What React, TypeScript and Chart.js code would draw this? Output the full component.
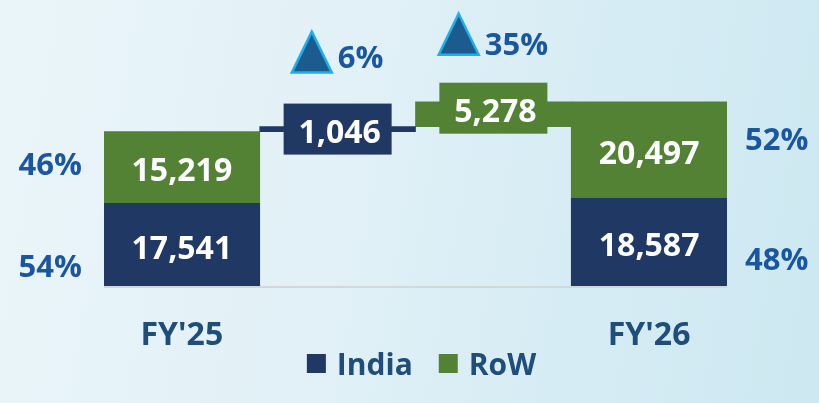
import React, { useEffect, useRef } from "react";
import { Chart, registerables } from "chart.js";

Chart.register(...registerables);

// ---- data ----
const categories = ["FY'25", "", "", "FY'26"];
const seriesNames = ["India", "RoW"];
const indiaValues: (number | null)[] = [17541, 1046, null, 18587];
const rowValues: (number | null)[] = [15219, null, 5278, 20497];
const indiaShare: (string | null)[] = ["54%", null, null, "48%"];
const rowShare: (string | null)[] = ["46%", null, null, "52%"];
const growthLabels: (string | null)[] = [null, "6%", "35%", null];
const isTotal = [true, false, false, true];

const NAVY = "#203864";
const GREEN = "#548235";
const FONT = "'Open Sans', 'Noto Sans', sans-serif";

// build floating ranges (waterfall)
function buildRanges() {
  const india: ([number, number] | null)[] = [];
  const row: ([number, number] | null)[] = [];
  let running = 0;
  for (let i = 0; i < categories.length; i++) {
    const iv = indiaValues[i];
    const rv = rowValues[i];
    if (isTotal[i]) {
      india.push(iv != null ? [0, iv] : null);
      row.push(rv != null ? [iv ?? 0, (iv ?? 0) + (rv ?? 0)] : null);
      running = (iv ?? 0) + (rv ?? 0);
    } else {
      if (iv != null) {
        india.push([running, running + iv]);
        running += iv;
      } else india.push(null);
      if (rv != null) {
        row.push([running, running + rv]);
        running += rv;
      } else row.push(null);
    }
  }
  return { india, row };
}

const fmt = (v: number) => v.toLocaleString("en-US");

const labelPlugin = {
  id: "waterfallLabels",
  beforeDatasetsDraw(chart: any) {
    const { ctx, chartArea } = chart;
    ctx.save();
    ctx.strokeStyle = "#d2d7db";
    ctx.lineWidth = 2;
    ctx.beginPath();
    ctx.moveTo(chartArea.left, chartArea.bottom + 1);
    ctx.lineTo(chartArea.right, chartArea.bottom + 1);
    ctx.stroke();
    ctx.restore();
  },
  afterDatasetsDraw(chart: any, _args: any, opts: any) {
    const { ctx, chartArea } = chart;
    ctx.save();
    const values = [indiaValues, rowValues];
    const shares = [indiaShare, rowShare];
    const colors = [NAVY, GREEN];

    for (let d = 0; d < 2; d++) {
      const meta = chart.getDatasetMeta(d);
      for (let i = 0; i < categories.length; i++) {
        const v = values[d][i];
        const el = meta.data[i];
        if (v == null || !el) continue;
        const cx = el.x;
        const cy = (el.y + el.base) / 2;
        if (isTotal[i]) {
          ctx.font = `bold 32px ${FONT}`;
          ctx.fillStyle = "#ffffff";
          ctx.textAlign = "center";
          ctx.textBaseline = "alphabetic";
          ctx.fillText(fmt(v), cx, cy + 14);
          const s = shares[d][i];
          if (s) {
            ctx.font = `bold 31px ${FONT}`;
            ctx.fillStyle = "#1a57a0";
            const off = opts.shareOffsets[`${d}-${i}`] ?? 0;
            if (i === 0) {
              ctx.textAlign = "right";
              ctx.fillText(s, el.x - el.width / 2 - 22, cy + off);
            } else {
              ctx.textAlign = "left";
              ctx.fillText(s, el.x + el.width / 2 + 18, cy + off);
            }
          }
        } else {
          const bw = 108, bh = 51;
          const boxCy = cy + (opts.boxOffsets[i] ?? 0);
          const top = boxCy - bh / 2;
          ctx.fillStyle = colors[d];
          ctx.fillRect(cx - bw / 2, top, bw, bh);
          ctx.font = `bold 32px ${FONT}`;
          ctx.fillStyle = "#ffffff";
          ctx.textAlign = "center";
          ctx.textBaseline = "alphabetic";
          ctx.fillText(fmt(v), cx + 2, boxCy + 14);

          const g = growthLabels[i];
          if (g) {
            const go = opts.growthOffsets[i];
            ctx.font = `bold 31px ${FONT}`;
            const tw = ctx.measureText(g).width;
            const triW = 40, triH = 41, gap = 6;
            const total = triW + gap + tw;
            const x0 = cx - total / 2;
            const baseY = top + go.tri;
            ctx.beginPath();
            ctx.moveTo(x0 + triW / 2, baseY - triH);
            ctx.lineTo(x0 + triW, baseY);
            ctx.lineTo(x0, baseY);
            ctx.closePath();
            ctx.fillStyle = "#1d5a8e";
            ctx.fill();
            ctx.lineWidth = 2.5;
            ctx.strokeStyle = "#1fb0ec";
            ctx.lineJoin = "miter";
            ctx.stroke();
            ctx.fillStyle = "#1a57a0";
            ctx.textAlign = "left";
            ctx.fillText(g, x0 + triW + gap, top + go.text);
          }
        }
      }
    }

    // category labels
    const meta0 = chart.getDatasetMeta(0);
    ctx.font = `bold 32px ${FONT}`;
    ctx.fillStyle = "#1f4e7a";
    ctx.textAlign = "center";
    ctx.textBaseline = "alphabetic";
    categories.forEach((c, i) => {
      if (!c) return;
      const el = meta0.data[i];
      ctx.fillText(c, el.x, chartArea.bottom + 59);
    });

    // legend
    ctx.font = `bold 30px ${FONT}`;
    const box = 19, gapBT = 11, gapItems = 26;
    const widths = seriesNames.map((n) => ctx.measureText(n).width);
    const totalW = widths.reduce((a, w) => a + box + gapBT + w, 0) + gapItems;
    let lx = (chartArea.left + chartArea.right) / 2 + 6 - totalW / 2;
    const ly = chartArea.bottom + 89;
    seriesNames.forEach((n, k) => {
      ctx.fillStyle = colors[k];
      ctx.fillRect(lx, ly - 21, box, box);
      ctx.fillStyle = "#1f4e7a";
      ctx.textAlign = "left";
      ctx.fillText(n, lx + box + gapBT, ly);
      lx += box + gapBT + widths[k] + gapItems;
    });
    ctx.restore();
  },
};

export default function App() {
  const ref = useRef<HTMLCanvasElement>(null);
  useEffect(() => {
    document.body.style.margin = "0";
    const { india, row } = buildRanges();
    const chart = new Chart(ref.current as HTMLCanvasElement, {
      type: "bar",
      data: {
        labels: categories,
        datasets: [
          { label: seriesNames[0], data: india as any, backgroundColor: NAVY, borderWidth: 0 },
          { label: seriesNames[1], data: row as any, backgroundColor: GREEN, borderWidth: 0 },
        ],
      },
      options: {
        animation: false,
        responsive: false,
        maintainAspectRatio: false,
        layout: { padding: { left: 104, right: 92, top: 22, bottom: 117 } },
        datasets: { bar: { barPercentage: 1, categoryPercentage: 1 } } as any,
        scales: {
          x: { stacked: true, display: false },
          y: { stacked: false, display: false, min: 0, max: 56000 },
        },
        plugins: {
          legend: { display: false },
          tooltip: { enabled: false },
          waterfallLabels: {
            shareOffsets: { "0-0": 32, "1-0": 8, "0-3": 28, "1-3": 0 },
            boxOffsets: { 1: 0, 2: -6 },
            growthOffsets: { 1: { tri: -31, text: -36 }, 2: { tri: -28, text: -28 } },
          },
        } as any,
      },
      plugins: [labelPlugin],
    });
    return () => chart.destroy();
  }, []);
  return (
    <div
      style={{
        position: "fixed",
        left: 0,
        top: 0,
        width: 819,
        height: 403,
        background:
          "linear-gradient(100deg, #eaf5f9 0%, #e2f1f7 40%, #d6ecf4 70%, #cde8f1 100%)",
      }}
    >
      <canvas ref={ref} width={819} height={403} style={{ width: 819, height: 403, display: "block" }} />
    </div>
  );
}
